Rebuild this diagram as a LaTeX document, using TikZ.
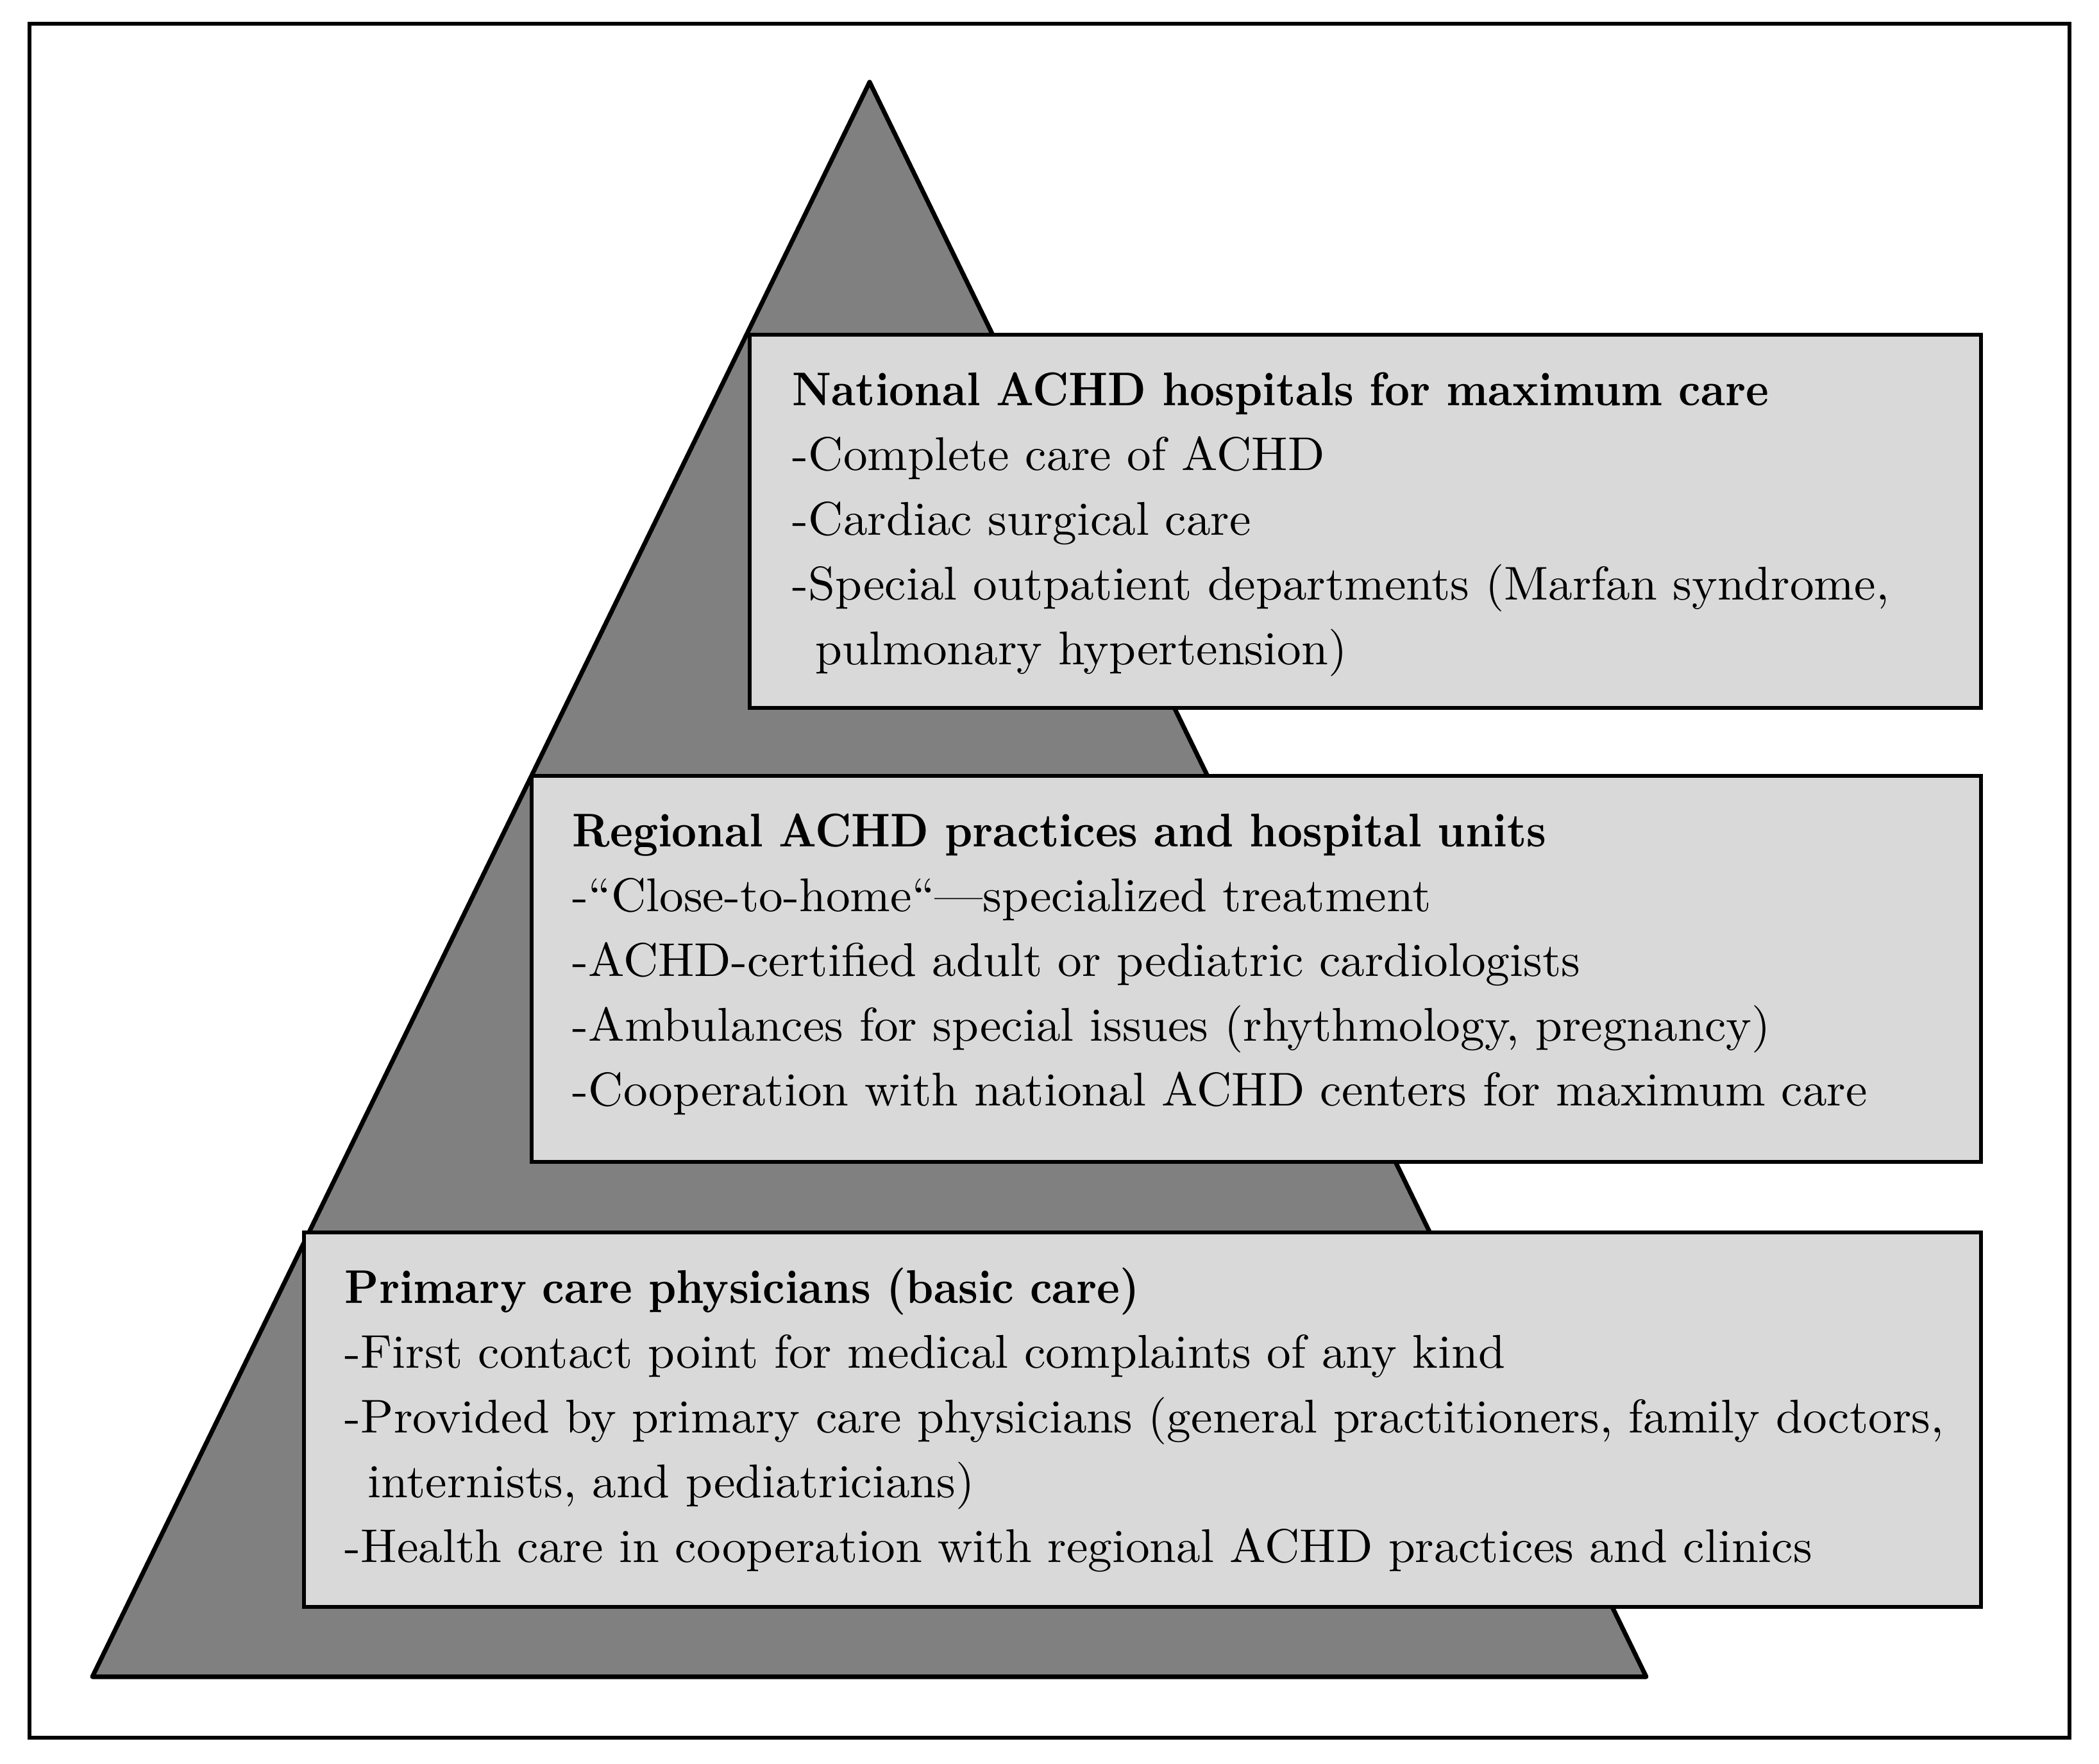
\documentclass[tikz,border=0pt]{standalone}
\usepackage{fontspec}
\usetikzlibrary{calc, positioning}
\definecolor{pyrgray}{RGB}{128,128,128}
\definecolor{boxgray}{RGB}{217,217,217}
\newfontfamily\tierfont{lmroman10-regular.otf}[
  UprightFeatures={FakeStretch=1.02},
  BoldFont=lmroman10-bold.otf, BoldFeatures={FakeStretch=0.92}]

\begin{document}
\begin{tikzpicture}[
  frame/.style={draw=black, line width=1.9pt},
  pyramid/.style={draw=black, line width=2pt, fill=pyrgray, line join=round},
  tier/.style={draw=black, line width=1.9pt, fill=boxgray, anchor=north west,
    inner sep=0pt, outer sep=0pt},
  tiertxt/.style={anchor=base west, inner sep=0pt, align=left,
    text width=26cm, font=\tierfont\fontsize{21}{28.7}\selectfont},
]
\useasboundingbox (0,0) rectangle (32.73,27.50);

% ---- outer frame and pyramid ----
\draw[frame] (0.46,0.40) rectangle (32.27,27.13);
\draw[pyramid] (13.56,26.22) -- (25.67,1.35) -- (1.44,1.35) -- cycle;

% ---- tiers (bottom to top) ----
\node[tier, minimum width=26.15cm, minimum height=5.84cm] (pri-box) at (4.74, 8.28) {};
\node[tier, minimum width=22.60cm, minimum height=6.02cm] (reg-box) at (8.29,15.40) {};
\node[tier, minimum width=19.20cm, minimum height=5.82cm] (nat-box) at (11.69,22.28) {};

% ---- tier texts ----
\node[tiertxt] (nat-txt) at ($(nat-box.north west)+(0.66,-1.11)$)
  {\textbf{National ACHD hospitals for maximum care}\\
  -Complete care of ACHD\\
  -Cardiac surgical care\\
  -Special outpatient departments (Marfan syndrome,\\
  \hspace*{0.36cm}pulmonary hypertension)};
\node[tiertxt] (reg-txt) at ($(reg-box.north west)+(0.63,-1.11)$)
  {\textbf{Regional ACHD practices and hospital units}\\
  -“Close-to-home“—specialized treatment\\
  -ACHD-certified adult or pediatric cardiologists\\
  -Ambulances for special issues (rhythmology, pregnancy)\\
  -Cooperation with national ACHD centers for maximum care};
\node[tiertxt] (pri-txt) at ($(pri-box.north west)+(0.63,-1.11)$)
  {\textbf{Primary care physicians (basic care)}\\
  -First contact point for medical complaints of any kind\\
  -Provided by primary care physicians (general practitioners, family doctors,\\
  \hspace*{0.36cm}internists, and pediatricians)\\
  -Health care in cooperation with regional ACHD practices and clinics};

\end{tikzpicture}
\end{document}
